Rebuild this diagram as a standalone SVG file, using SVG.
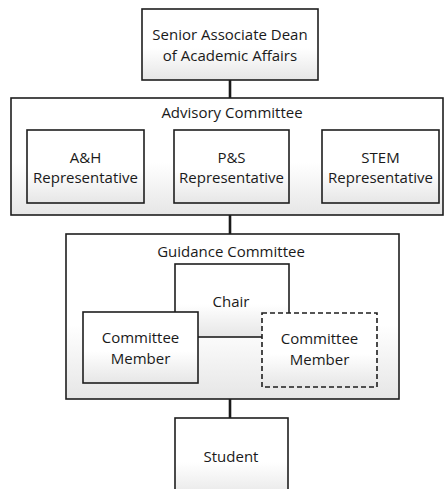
<svg xmlns="http://www.w3.org/2000/svg" width="445" height="489" viewBox="0 0 445 489">
  <defs>
    <linearGradient id="scan" x1="0" y1="0" x2="0" y2="1">
      <stop offset="0" stop-color="#ffffff"/>
      <stop offset="0.55" stop-color="#ffffff"/>
      <stop offset="1" stop-color="#e6e6e6"/>
    </linearGradient>
    <style>
      .box { fill: url(#scan); stroke: #1e1e1e; stroke-width: 1.6; }
      .dash { stroke-dasharray: 5 3; }
      .lbl { font-family: "Open Sans", "Noto Sans", sans-serif; font-size: 15px; fill: #1a1a1a; text-anchor: middle; }
      .conn { stroke: #1a1a1a; stroke-width: 2.6; fill: none; }
    </style>
  </defs>
  <rect width="445" height="489" fill="#ffffff"/>

  <g id="connectors">
    <line class="conn" x1="230" y1="80" x2="230" y2="98"/>
    <line class="conn" x1="230" y1="215" x2="230" y2="234"/>
    <line class="conn" x1="230" y1="399" x2="230" y2="418"/>
  </g>

  <g id="dean">
    <rect class="box" x="142" y="9" width="176" height="71"/>
    <text class="lbl" x="230" y="40">Senior Associate Dean</text>
    <text class="lbl" x="230" y="61">of Academic Affairs</text>
  </g>

  <g id="advisory">
    <rect class="box" x="11" y="98" width="432" height="117"/>
    <text class="lbl" x="232" y="118">Advisory Committee</text>
  </g>
  <g id="ah">
    <rect class="box" x="27" y="130" width="117" height="73"/>
    <text class="lbl" x="85.5" y="163">A&amp;H</text>
    <text class="lbl" x="85.5" y="183">Representative</text>
  </g>
  <g id="ps">
    <rect class="box" x="174" y="130" width="115" height="73"/>
    <text class="lbl" x="231.5" y="163">P&amp;S</text>
    <text class="lbl" x="231.5" y="183">Representative</text>
  </g>
  <g id="stem">
    <rect class="box" x="322" y="130" width="117" height="73"/>
    <text class="lbl" x="380.5" y="163">STEM</text>
    <text class="lbl" x="380.5" y="183">Representative</text>
  </g>

  <g id="guidance">
    <rect class="box" x="66" y="234" width="333" height="165"/>
    <text class="lbl" x="231" y="257">Guidance Committee</text>
  </g>
  <g id="chair">
    <rect class="box" x="175" y="264" width="114" height="73"/>
    <text class="lbl" x="231" y="307">Chair</text>
  </g>
  <g id="member-left">
    <rect class="box" x="83" y="312" width="115" height="71"/>
    <text class="lbl" x="140.5" y="343">Committee</text>
    <text class="lbl" x="140.5" y="364">Member</text>
  </g>
  <g id="member-right">
    <rect class="box dash" x="262" y="313" width="115" height="74"/>
    <text class="lbl" x="319.5" y="344">Committee</text>
    <text class="lbl" x="319.5" y="365">Member</text>
  </g>

  <g id="student">
    <rect class="box" x="175" y="418" width="113" height="80"/>
    <text class="lbl" x="231" y="462">Student</text>
  </g>
</svg>
